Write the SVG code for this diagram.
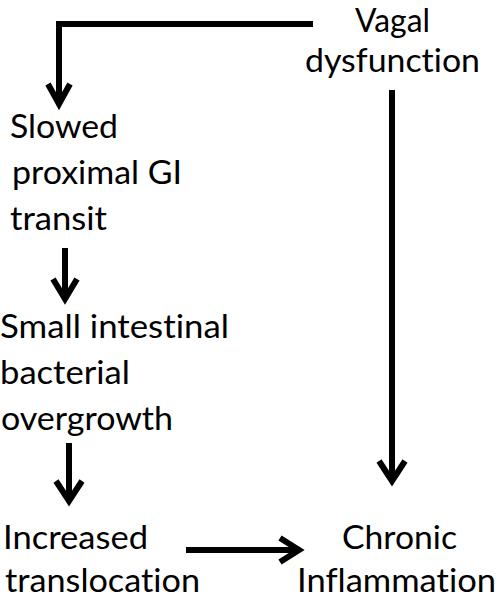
<svg xmlns="http://www.w3.org/2000/svg" width="500" height="600" viewBox="0 0 500 600">
<style>
text{font-family:Lato,"Open Sans","Liberation Sans",sans-serif;font-size:33px;fill:#000;font-variant-ligatures:none}
.ln{fill:none;stroke:#000;stroke-width:6}
.hd{fill:none;stroke:#000;stroke-width:6;stroke-linejoin:miter;stroke-miterlimit:10}
</style>
<rect width="500" height="600" fill="#fff"/>
<g id="n-vagal">
<text x="355" y="32" textLength="75" lengthAdjust="spacingAndGlyphs">Vagal</text>
<text x="305" y="72" textLength="175" lengthAdjust="spacingAndGlyphs">dysfunction</text>
</g>
<g id="n-slowed">
<text x="10" y="138" textLength="108" lengthAdjust="spacingAndGlyphs">Slowed</text>
<text x="12" y="184" textLength="170" lengthAdjust="spacingAndGlyphs">proximal GI</text>
<text x="10" y="230" textLength="97" lengthAdjust="spacingAndGlyphs">transit</text>
</g>
<g id="n-sibo">
<text x="0" y="338" textLength="229" lengthAdjust="spacingAndGlyphs">Small intestinal</text>
<text x="0" y="384" textLength="130" lengthAdjust="spacingAndGlyphs">bacterial</text>
<text x="1" y="430" textLength="172" lengthAdjust="spacingAndGlyphs">overgrowth</text>
</g>
<g id="n-transloc">
<text x="3" y="549" textLength="145" lengthAdjust="spacingAndGlyphs">Increased</text>
<text x="5" y="592" textLength="195" lengthAdjust="spacingAndGlyphs">translocation</text>
</g>
<g id="n-inflam">
<text x="342" y="549" textLength="115" lengthAdjust="spacingAndGlyphs">Chronic</text>
<text x="297" y="592" textLength="199" lengthAdjust="spacingAndGlyphs">Inflammation</text>
</g>
<g id="connectors">
<polyline class="ln" points="313,24 59,24 59,102"/>
<polyline class="hd" points="48,84 59,104 70,84"/>
<line class="ln" x1="392" y1="90" x2="392" y2="480"/>
<polyline class="hd" points="379,461 392,481 405,461"/>
<line class="ln" x1="65" y1="248" x2="65" y2="298"/>
<polyline class="hd" points="53,279 65,299 77,279"/>
<line class="ln" x1="69" y1="443" x2="69" y2="500"/>
<polyline class="hd" points="56,481 69,501 82,481"/>
<line class="ln" x1="186" y1="550" x2="298" y2="550"/>
<polyline class="hd" points="280,538 299,550 280,562"/>
</g>
</svg>
